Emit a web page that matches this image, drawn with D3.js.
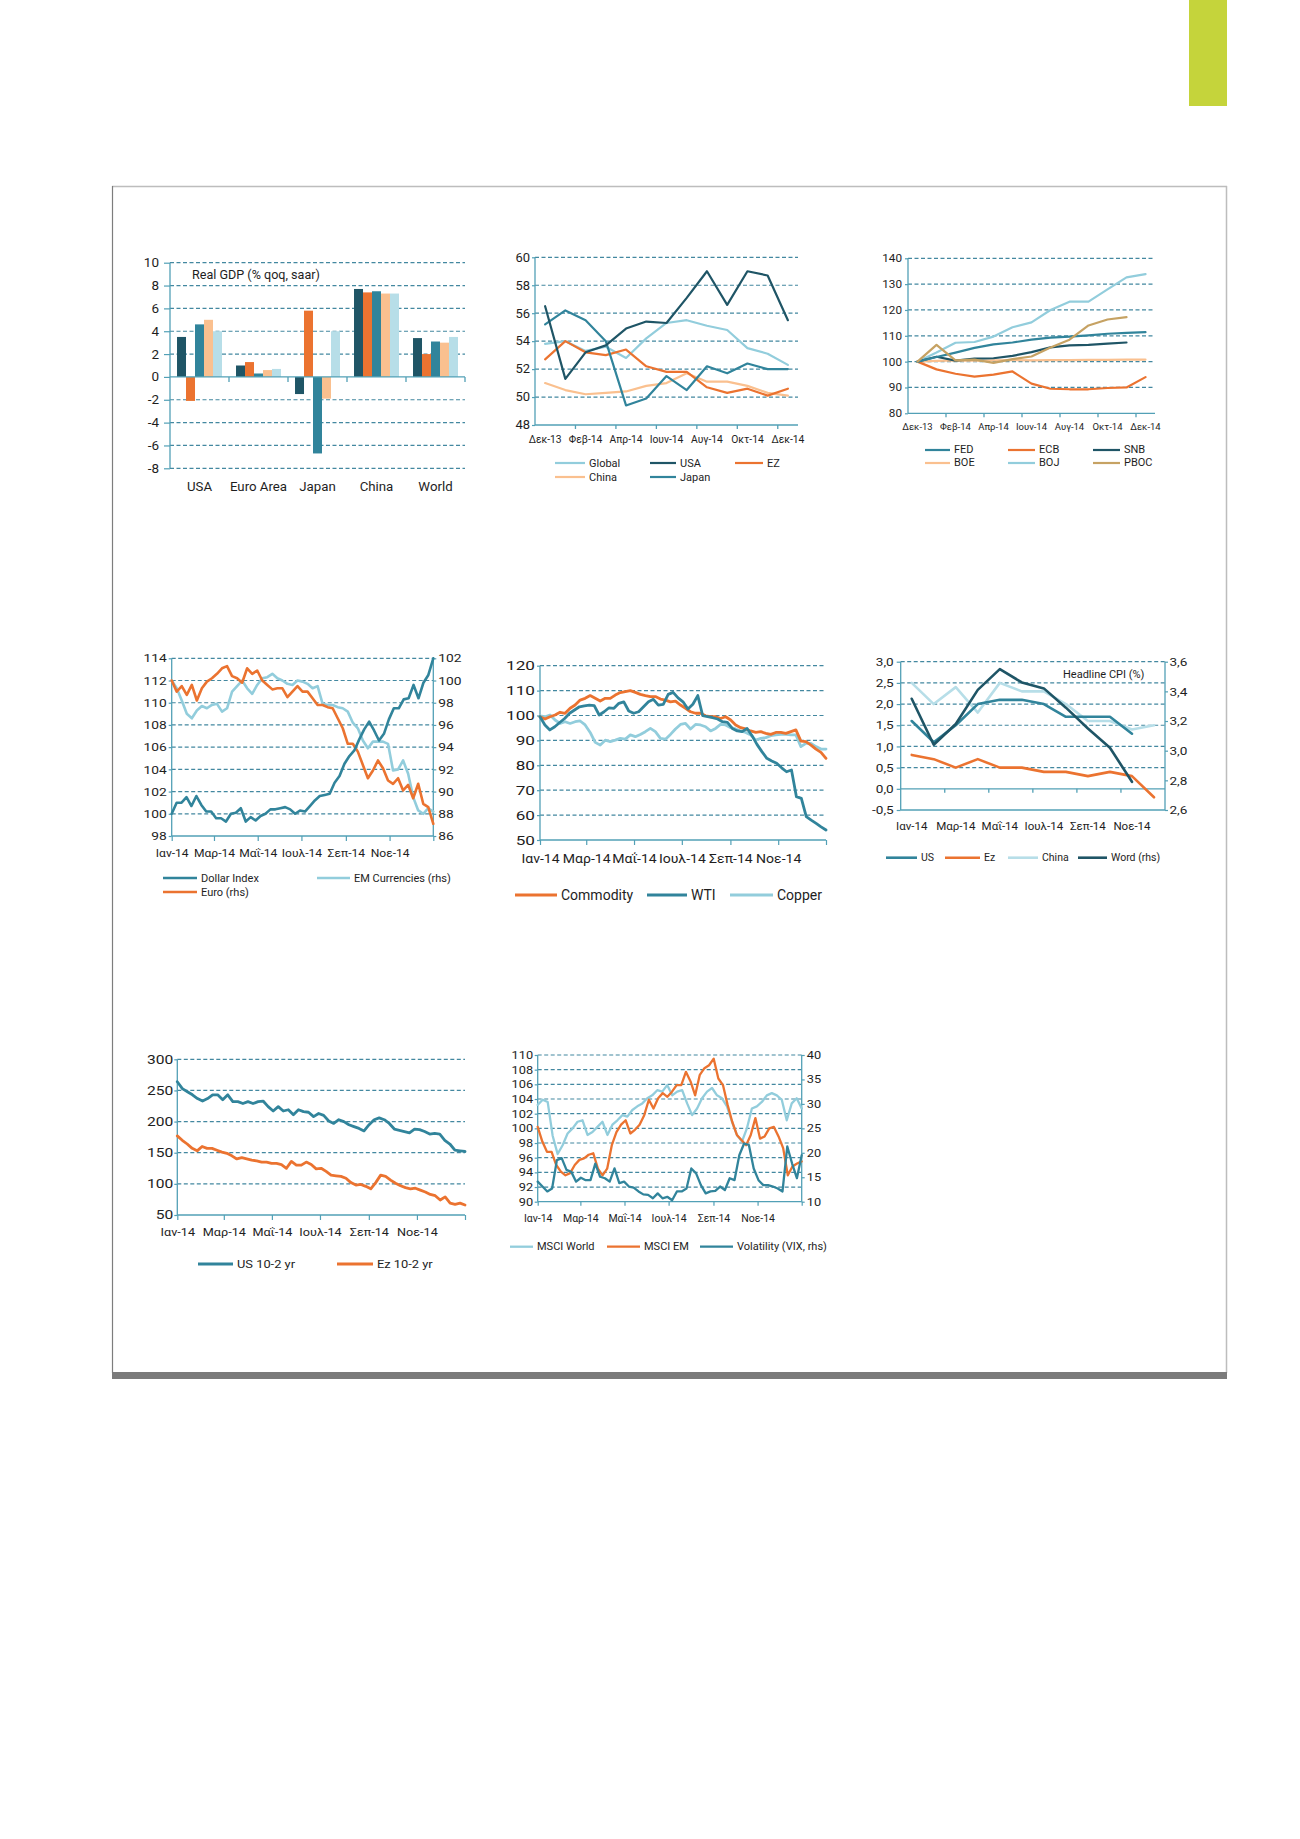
<!DOCTYPE html>
<html>
<head>
<meta charset="utf-8">
<script src="https://cdn.jsdelivr.net/npm/d3@7/dist/d3.min.js"></script>
<style>
  body { margin: 0; background: #fff; }
  svg { font-family: Roboto, 'Noto Sans', sans-serif; }
  .grid { stroke: #4388a0; stroke-width: 1.2; stroke-dasharray: 4 2.5; }
  .ax { stroke: #52a0b6; stroke-width: 1.3; fill: none; }
</style>
</head>
<body>
<script>
// ---------- data ----------
const gdpRegions = ['USA', 'Euro Area', 'Japan', 'China', 'World']
const gdpQuarters = ['4Q13', '1Q14', '2Q14', '3Q14', '4Q14']
const gdpUSA = [3.5, -2.1, 4.6, 5.0, 4.0]
const gdpEA = [1.0, 1.3, 0.3, 0.6, 0.7]
const gdpJapan = [-1.5, 5.8, -6.7, -1.9, 4.0]
const gdpChina = [7.7, 7.4, 7.5, 7.3, 7.3]
const gdpWorld = [3.4, 2.0, 3.1, 3.0, 3.5]
const gdpTicks = [-8, -6, -4, -2, 0, 2, 4, 6, 8, 10]

const pmiMonths = ['Δεκ-13', 'Ιαν-14', 'Φεβ-14', 'Μαρ-14', 'Απρ-14', 'Μαϊ-14', 'Ιουν-14',
  'Ιουλ-14', 'Αυγ-14', 'Σεπ-14', 'Οκτ-14', 'Νοε-14', 'Δεκ-14']
const pmiGlobal = [53.8, 54.0, 53.3, 53.6, 52.8, 54.2, 55.3, 55.5, 55.1, 54.8, 53.5, 53.1, 52.3]
const pmiUSA = [56.5, 51.3, 53.2, 53.7, 54.9, 55.4, 55.3, 57.1, 59.0, 56.6, 59.0, 58.7, 55.5]
const pmiEZ = [52.7, 54.0, 53.2, 53.0, 53.4, 52.2, 51.8, 51.8, 50.7, 50.3, 50.6, 50.1, 50.6]
const pmiChina = [51.0, 50.5, 50.2, 50.3, 50.4, 50.8, 51.0, 51.7, 51.1, 51.1, 50.8, 50.3, 50.1]
const pmiJapan = [55.2, 56.2, 55.5, 54.0, 49.4, 49.9, 51.5, 50.5, 52.2, 51.7, 52.4, 52.0, 52.0]
const pmiTicks = [48, 50, 52, 54, 56, 58, 60]

const cbFED = [100, 101.8, 103.5, 105.3, 106.7, 107.4, 108.5, 109.3, 109.7, 110.2, 110.8, 111.1, 111.4]
const cbECB = [100, 97.0, 95.3, 94.2, 95.0, 96.2, 91.5, 89.5, 89.3, 89.3, 89.8, 90.0, 94.0]
const cbSNB = [100, 101.9, 100.4, 101.2, 101.3, 102.2, 103.7, 105.5, 106.3, 106.5, 107.0, 107.4]
const cbBOE = [100, 100.3, 100.5, 100.4, 100.5, 100.6, 100.5, 100.6, 100.6, 100.7, 100.7, 100.8, 100.8]
const cbBOJ = [100, 103.5, 107.3, 107.6, 109.7, 113.3, 115.2, 120.0, 123.2, 123.2, 128.0, 132.6, 133.9]
const cbPBOC = [100, 106.5, 100.5, 100.8, 99.5, 101.0, 102.0, 105.5, 108.5, 114.0, 116.3, 117.2]
const cbTicks = [80, 90, 100, 110, 120, 130, 140]

// weekly observations through 2014
const fxDollar = [100.0, 101.0, 101.0, 101.5, 100.7, 101.6, 100.8, 100.2, 100.2, 99.6, 99.6, 99.3, 100.0,
  100.1, 100.5, 99.3, 99.7, 99.4, 99.8, 100.0, 100.4, 100.4, 100.5, 100.6, 100.4, 100.0, 100.3, 100.2,
  100.7, 101.2, 101.6, 101.7, 101.8, 102.8, 103.4, 104.5, 105.2, 105.7, 106.7, 107.6, 108.3, 107.5,
  106.6, 107.2, 108.5, 109.5, 109.5, 110.3, 110.4, 111.6, 110.4, 111.8, 112.5, 114.0]
const fxEuro = [100.0, 99.0, 99.5, 98.7, 99.6, 98.2, 99.3, 99.9, 100.2, 100.6, 101.1, 101.3, 100.4, 100.2,
  99.8, 101.1, 100.6, 100.9, 100.0, 99.6, 99.2, 99.3, 99.3, 98.5, 99.0, 99.5, 99.0, 99.0, 98.4, 97.8,
  97.8, 97.6, 97.5, 96.6, 95.7, 94.3, 94.3, 93.6, 92.4, 91.2, 91.9, 92.8, 92.1, 91.0, 90.7, 91.2, 90.1,
  90.6, 89.4, 90.7, 88.9, 88.6, 87.1]
const fxEM = [100.0, 99.3, 98.2, 97.0, 96.6, 97.3, 97.7, 97.5, 97.8, 97.9, 97.2, 97.5, 99.0, 99.5, 100.0,
  99.3, 98.8, 99.6, 100.2, 100.3, 100.6, 100.2, 100.0, 99.7, 99.6, 100.0, 99.9, 99.7, 99.3, 99.5, 97.9,
  97.8, 97.8, 97.6, 97.5, 97.2, 96.2, 95.7, 94.6, 93.9, 94.5, 94.5, 94.5, 94.3, 91.9, 92.0, 92.8, 91.6,
  89.5, 88.3, 88.0, 88.5, 88.2]
const fxLeftTicks = [98, 100, 102, 104, 106, 108, 110, 112, 114]
const fxRightTicks = [86, 88, 90, 92, 94, 96, 98, 100, 102]

const cmdCommodity = [99.5, 98.6, 99.5, 100.2, 101.3, 100.9, 102.9, 104.2, 106.2, 106.9, 108.0, 106.9,
  105.8, 106.9, 106.9, 108.2, 109.2, 109.6, 110.0, 109.3, 108.5, 108.0, 107.6, 107.6, 106.6, 106.2, 105.5,
  105.8, 104.2, 102.9, 101.5, 100.9, 100.9, 99.9, 99.5, 99.5, 98.8, 99.5, 98.2, 96.2, 95.1, 94.6, 93.8,
  93.2, 93.5, 92.8, 92.4, 93.2, 93.2, 92.8, 93.5, 94.2, 89.7, 89.5, 88.1, 86.5, 85.2, 82.8]
const cmdWTI = [99.5, 96.2, 94.2, 95.5, 97.2, 98.8, 100.9, 102.2, 103.5, 103.9, 104.2, 104.0, 100.2, 101.5,
  103.1, 102.9, 104.9, 105.5, 101.8, 100.9, 101.5, 103.5, 105.5, 106.5, 104.2, 104.5, 108.5, 109.3, 107.1,
  105.5, 102.6, 104.5, 108.0, 99.9, 99.5, 99.1, 98.6, 97.5, 97.2, 94.8, 93.8, 93.5, 94.8, 91.9, 88.4, 85.5,
  82.8, 81.7, 80.8, 79.0, 77.4, 78.1, 67.4, 66.7, 59.4, 58.0, 56.7, 55.3, 54.0]
const cmdCopper = [99.9, 99.5, 100.2, 98.2, 96.8, 97.5, 96.8, 97.5, 97.8, 96.2, 93.2, 89.2, 88.1, 90.1,
  89.5, 90.1, 90.8, 90.5, 92.2, 91.5, 92.4, 93.5, 94.8, 93.5, 90.8, 90.5, 92.4, 94.6, 96.4, 96.8, 94.6,
  96.4, 96.2, 95.5, 93.8, 94.8, 96.4, 96.2, 95.1, 94.6, 93.8, 93.2, 92.2, 90.1, 90.8, 91.1, 91.9, 92.2,
  92.4, 92.4, 92.2, 92.2, 87.5, 88.8, 88.8, 87.5, 86.5, 86.5]
const cmdTicks = [50, 60, 70, 80, 90, 100, 110, 120]

const cpiMonths = ['Ιαν-14', 'Φεβ-14', 'Μαρ-14', 'Απρ-14', 'Μαΐ-14', 'Ιουν-14', 'Ιουλ-14', 'Αυγ-14',
  'Σεπ-14', 'Οκτ-14', 'Νοε-14', 'Δεκ-14']
const cpiUS = [1.6, 1.1, 1.5, 2.0, 2.1, 2.1, 2.0, 1.7, 1.7, 1.7, 1.3]
const cpiEz = [0.8, 0.7, 0.5, 0.7, 0.5, 0.5, 0.4, 0.4, 0.3, 0.4, 0.3, -0.2]
const cpiChina = [2.5, 2.0, 2.4, 1.8, 2.5, 2.3, 2.3, 2.0, 1.6, 1.6, 1.4, 1.5]
const cpiWorld = [3.35, 3.04, 3.18, 3.41, 3.55, 3.46, 3.42, 3.29, 3.15, 3.02, 2.79]
const cpiLeftTicks = [-0.5, 0, 0.5, 1.0, 1.5, 2.0, 2.5, 3.0]
const cpiRightTicks = [2.6, 2.8, 3.0, 3.2, 3.4, 3.6]

const crvUS = [264, 253, 248, 243, 237, 233, 237, 243, 243, 235, 243, 232, 232, 229, 232, 229, 232, 233,
  224, 217, 224, 217, 219, 211, 219, 216, 215, 208, 213, 210, 201, 197, 203, 200, 195, 192, 189, 185, 195,
  203, 206, 203, 197, 188, 186, 184, 182, 188, 187, 184, 180, 181, 180, 170, 164, 154, 153, 152]
const crvEz = [177, 170, 164, 157, 153, 160, 157, 157, 154, 151, 149, 145, 140, 142, 140, 138, 137, 135,
  135, 133, 133, 131, 125, 136, 130, 130, 135, 131, 124, 125, 120, 114, 113, 112, 109, 102, 98, 99, 96, 92,
  102, 114, 112, 106, 101, 97, 94, 92, 93, 90, 87, 83, 81, 74, 79, 69, 67, 69, 66]
const crvTicks = [50, 100, 150, 200, 250, 300]

const eqWorld = [103.2, 103.9, 103.6, 99.0, 96.5, 97.7, 99.3, 100.0, 100.9, 101.1, 99.1, 99.5, 100.2,
  100.9, 99.1, 100.5, 101.1, 101.8, 101.6, 102.5, 103.0, 103.4, 104.1, 104.5, 105.2, 105.0, 105.9, 104.5,
  105.0, 105.2, 103.4, 101.8, 102.7, 104.1, 105.0, 105.5, 104.5, 104.1, 103.0, 100.9, 99.1, 98.2, 100.0,
  102.7, 103.0, 103.6, 104.5, 104.8, 104.5, 103.9, 101.1, 103.4, 104.1, 102.7]
const eqEM = [100.2, 98.2, 96.8, 96.8, 95.0, 94.1, 93.6, 93.9, 95.0, 95.7, 95.9, 96.4, 96.6, 94.5, 93.6,
  94.5, 97.7, 99.5, 100.5, 101.1, 99.3, 99.8, 100.5, 101.8, 103.9, 102.7, 104.1, 104.8, 104.3, 105.0,
  105.9, 105.9, 107.7, 106.4, 104.5, 107.3, 108.2, 108.6, 109.5, 106.8, 105.9, 103.2, 100.9, 99.1, 98.4,
  97.7, 99.1, 101.4, 98.6, 98.9, 100.0, 100.2, 98.9, 97.3, 93.6, 94.8, 95.2, 95.5]
const eqVIX = [14.1, 13.1, 12.1, 12.7, 18.5, 18.9, 16.5, 16.1, 14.1, 14.9, 14.4, 14.4, 17.8, 15.1, 14.8,
  14.1, 16.8, 13.8, 14.1, 13.1, 12.9, 12.1, 11.5, 11.4, 10.7, 11.7, 10.7, 11.0, 10.3, 12.1, 12.1, 12.7,
  16.8, 15.8, 13.4, 11.7, 12.1, 12.2, 13.1, 12.4, 14.8, 14.4, 19.5, 21.9, 21.6, 16.8, 14.4, 13.4, 13.4,
  13.1, 12.7, 12.1, 21.3, 17.8, 14.8, 19.5]
const eqLeftTicks = [90, 92, 94, 96, 98, 100, 102, 104, 106, 108, 110]
const eqRightTicks = [10, 15, 20, 25, 30, 35, 40]

// ---------- setup ----------
const col = {
  dark: '#1f5566', teal: '#31849b', cyan: '#92cddc', pale: '#b7dee8',
  orange: '#eb7330', peach: '#fac08f', tan: '#c6a263', text: '#1e1e1e', axis: '#52a0b6'
}
const grMonths = ['Ιαν', 'Φεβ', 'Μαρ', 'Απρ', 'Μαΐ', 'Ιουν', 'Ιουλ', 'Αυγ', 'Σεπ', 'Οκτ', 'Νοε', 'Δεκ']
const monthLabel = d => d.getFullYear() === 2014 ? grMonths[d.getMonth()] + '-14' : ''
const t0 = new Date(2014, 0, 1), t1 = new Date(2015, 0, 1)
const weekly = vals => vals.map((v, i) => [new Date(+t0 + (t1 - t0) * i / (vals.length - 1)), v])
const grFmt = d3.formatLocale({ decimal: ',', thousands: '.', grouping: [3], currency: ['', ''], minus: '-' }).format('.1f')

const svg = d3.select('body').append('svg').attr('width', 1300).attr('height', 1839)

// page furniture
svg.append('rect').attr('x', 1189).attr('y', 0).attr('width', 38).attr('height', 106).attr('fill', '#c5d43b')
svg.append('line').attr('x1', 112).attr('x2', 1227).attr('y1', 186.5).attr('y2', 186.5).attr('stroke', '#bdbdbd').attr('stroke-width', 1.5)
svg.append('line').attr('x1', 112.5).attr('x2', 112.5).attr('y1', 186).attr('y2', 1373).attr('stroke', '#7d7d7d').attr('stroke-width', 1.2)
svg.append('line').attr('x1', 1226.5).attr('x2', 1226.5).attr('y1', 186).attr('y2', 1373).attr('stroke', '#bdbdbd').attr('stroke-width', 1.5)
svg.append('rect').attr('x', 112).attr('y', 1372).attr('width', 1115).attr('height', 7).attr('fill', '#7b7b7b')

// ---------- helpers ----------
// the source charts were stretched sideways, so text gets a horizontal scale
function widen(sel, k) {
  sel.each(function () {
    const t = d3.select(this)
    t.attr('x', (+t.attr('x') || 0) / k).attr('transform', `scale(${k},1)`)
  })
}

function grid(g, y, vals, x0, x1) {
  g.selectAll(null).data(vals).enter().append('line')
    .attr('class', 'grid')
    .attr('x1', x0).attr('x2', x1)
    .attr('y1', d => y(d)).attr('y2', d => y(d))
}

function rule(g, x1, y1, x2, y2) {
  g.append('line').attr('class', 'ax')
    .attr('x1', x1).attr('y1', y1).attr('x2', x2).attr('y2', y2)
}

function axisAt(g, axis, tx, ty, size, k = 1) {
  const a = g.append('g').attr('transform', `translate(${tx},${ty})`).call(axis)
  a.attr('font-family', null).attr('font-size', size)
  a.select('.domain').remove()
  a.selectAll('.tick line').attr('stroke', col.axis).attr('stroke-width', 1.2)
  a.selectAll('.tick text').attr('fill', col.text)
  if (k !== 1) widen(a.selectAll('.tick text'), k)
  return a
}

function line(g, pts, x, y, color, w) {
  g.append('path').datum(pts)
    .attr('fill', 'none').attr('stroke', color).attr('stroke-width', w)
    .attr('stroke-linejoin', 'round').attr('stroke-linecap', 'round')
    .attr('d', d3.line().x(d => x(d[0])).y(d => y(d[1])))
}

function legend(g, items, size, w, k = 1) {
  items.forEach(([label, color, x, y, len]) => {
    g.append('line').attr('x1', x).attr('x2', x + len).attr('y1', y).attr('y2', y)
      .attr('stroke', color).attr('stroke-width', w)
    const t = g.append('text').attr('x', x + len + 4).attr('y', y).attr('dy', '0.35em')
      .attr('font-size', size).attr('fill', col.text).text(label)
    if (k !== 1) widen(t, k)
  })
}

// ---------- 1. real GDP bars ----------
{
  const g = svg.append('g')
  const x = d3.scaleBand().domain(gdpRegions).range([170, 465])
  const xq = d3.scaleBand().domain(gdpQuarters).range([0, x.bandwidth()]).paddingOuter(0.78)
  const y = d3.scaleLinear().domain([-8, 10]).range([468.3, 262.7])
  const qColors = [col.dark, col.orange, col.teal, col.peach, col.pale]
  const rows = [gdpUSA, gdpEA, gdpJapan, gdpChina, gdpWorld]

  grid(g, y, gdpTicks.filter(d => d !== 0), 170, 465)
  rows.forEach((vals, i) => {
    g.selectAll(null).data(vals).enter().append('rect')
      .attr('x', (d, j) => x(gdpRegions[i]) + xq(gdpQuarters[j]))
      .attr('width', xq.bandwidth())
      .attr('y', d => y(Math.max(0, d)))
      .attr('height', d => Math.abs(y(d) - y(0)))
      .attr('fill', (d, j) => qColors[j])
  })
  rule(g, 170, y(10), 170, y(-8))
  rule(g, 170, y(0), 465, y(0))
  g.selectAll(null).data(gdpRegions).enter().append('line').attr('class', 'ax')
    .attr('x1', d => x(d) + x.bandwidth()).attr('x2', d => x(d) + x.bandwidth())
    .attr('y1', y(0)).attr('y2', y(0) + 5)
  axisAt(g, d3.axisLeft(y).tickValues(gdpTicks).tickSize(6).tickPadding(5).tickFormat(d => String(d)), 170, 0, 12.5, 1.08)
  const labels = g.selectAll(null).data(gdpRegions).enter().append('text')
    .attr('x', d => x(d) + x.bandwidth() / 2).attr('y', 491)
    .attr('text-anchor', 'middle').attr('font-size', 12.5).attr('fill', col.text)
    .text(d => d)
  widen(labels, 1.06)
  widen(g.append('text').attr('x', 192).attr('y', 279.5)
    .attr('font-size', 12).attr('fill', col.text).text('Real GDP (% qoq, saar)'), 1.05)
}

// ---------- 2. PMIs ----------
{
  const g = svg.append('g')
  const x = d3.scaleBand().domain(pmiMonths).range([535, 798])
  const cx = m => x(m) + x.bandwidth() / 2
  const y = d3.scaleLinear().domain([48, 60]).range([425, 257.3])

  grid(g, y, pmiTicks.slice(1), 535, 798)
  rule(g, 535, y(60), 535, y(48))
  rule(g, 535, y(48), 798, y(48))
  g.selectAll(null).data(pmiMonths.filter((m, i) => i % 2 === 1)).enter().append('line').attr('class', 'ax')
    .attr('x1', d => x(d) + x.bandwidth()).attr('x2', d => x(d) + x.bandwidth())
    .attr('y1', y(48)).attr('y2', y(48) + 4)
  axisAt(g, d3.axisLeft(y).tickValues(pmiTicks).tickSize(3).tickPadding(2), 535, 0, 12, 1.08)
  axisAt(g, d3.axisBottom(x).tickValues(pmiMonths.filter((m, i) => i % 2 === 0)).tickSize(0).tickPadding(11), 0, 425, 10.3)

  const series = [[pmiGlobal, col.cyan], [pmiChina, col.peach], [pmiEZ, col.orange], [pmiJapan, col.teal], [pmiUSA, col.dark]]
  series.forEach(([vals, c]) => line(g, vals.map((v, i) => [pmiMonths[i], v]), cx, y, c, 2.2))
  legend(g, [
    ['Global', col.cyan, 555, 463, 30], ['USA', col.dark, 650, 463, 26], ['EZ', col.orange, 735, 463, 28],
    ['China', col.peach, 555, 477, 30], ['Japan', col.teal, 650, 477, 26]
  ], 11, 2.2)
}

// ---------- 3. central bank balance sheets ----------
{
  const g = svg.append('g')
  const x = d3.scaleBand().domain(pmiMonths).range([908, 1155])
  const cx = m => x(m) + x.bandwidth() / 2
  const y = d3.scaleLinear().domain([80, 140]).range([413.3, 258.3])

  grid(g, y, cbTicks.slice(1), 908, 1155)
  rule(g, 908, y(140), 908, y(80))
  rule(g, 908, y(80), 1155, y(80))
  g.selectAll(null).data(pmiMonths.filter((m, i) => i % 2 === 1)).enter().append('line').attr('class', 'ax')
    .attr('x1', d => x(d) + x.bandwidth()).attr('x2', d => x(d) + x.bandwidth())
    .attr('y1', y(80)).attr('y2', y(80) + 4)
  axisAt(g, d3.axisLeft(y).tickValues(cbTicks).tickSize(3).tickPadding(3), 908, 0, 10.5, 1.12)
  axisAt(g, d3.axisBottom(x).tickValues(pmiMonths.filter((m, i) => i % 2 === 0)).tickSize(0).tickPadding(10), 0, 413.3, 9.5)

  const series = [[cbBOE, col.peach], [cbECB, col.orange], [cbBOJ, col.cyan], [cbSNB, col.dark], [cbFED, col.teal], [cbPBOC, col.tan]]
  series.forEach(([vals, c]) => line(g, vals.map((v, i) => [pmiMonths[i], v]), cx, y, c, 2.2))
  legend(g, [
    ['FED', col.teal, 925, 450, 25], ['ECB', col.orange, 1008, 450, 27], ['SNB', col.dark, 1093, 450, 27],
    ['BOE', col.peach, 925, 463, 25], ['BOJ', col.cyan, 1008, 463, 27], ['PBOC', col.tan, 1093, 463, 27]
  ], 10, 2.2, 1.1)
}

// ---------- 4. currencies ----------
{
  const g = svg.append('g')
  const x = d3.scaleTime().domain([t0, t1]).range([171.7, 433.3])
  const yl = d3.scaleLinear().domain([98, 114]).range([836, 658.3])
  const yr = d3.scaleLinear().domain([86, 102]).range([836, 658.3])

  grid(g, yl, fxLeftTicks.slice(1), 171.7, 433.3)
  rule(g, 171.7, 658.3, 171.7, 836)
  rule(g, 433.3, 658.3, 433.3, 836)
  rule(g, 171.7, 836, 433.3, 836)
  axisAt(g, d3.axisBottom(x).ticks(d3.timeMonth.every(2)).tickSize(5).tickPadding(8).tickFormat(monthLabel), 0, 836, 11.5, 1.05)
  axisAt(g, d3.axisLeft(yl).tickValues(fxLeftTicks).tickSize(3).tickPadding(2), 171.7, 0, 11.5, 1.2)
  axisAt(g, d3.axisRight(yr).tickValues(fxRightTicks).tickSize(3).tickPadding(2), 433.3, 0, 11.5, 1.2)

  line(g, weekly(fxEM), x, yr, col.cyan, 2.6)
  line(g, weekly(fxEuro), x, yr, col.orange, 2.6)
  line(g, weekly(fxDollar), x, yl, col.teal, 2.6)
  legend(g, [
    ['Dollar Index', col.teal, 163, 878, 34], ['EM Currencies (rhs)', col.cyan, 317, 878, 33],
    ['Euro (rhs)', col.orange, 163, 892, 34]
  ], 11, 2.6)
}

// ---------- 5. commodities ----------
{
  const g = svg.append('g')
  const x = d3.scaleTime().domain([t0, t1]).range([540, 826])
  const y = d3.scaleLinear().domain([50, 120]).range([840, 665.7])

  grid(g, y, cmdTicks.slice(1), 540, 826)
  rule(g, 540, 665.7, 540, 840)
  rule(g, 540, 840, 826, 840)
  axisAt(g, d3.axisBottom(x).ticks(d3.timeMonth.every(2)).tickSize(5).tickPadding(8).tickFormat(monthLabel), 0, 840, 13.5, 1.04)
  // the source crop cuts off the leading digit of the top labels
  svg.append('clipPath').attr('id', 'cut5').append('rect').attr('x', -35).attr('y', 640).attr('width', 300).attr('height', 300)
  axisAt(g, d3.axisLeft(y).tickValues(cmdTicks).tickSize(3).tickPadding(2), 540, 0, 13, 1.32)
    .attr('clip-path', 'url(#cut5)')

  line(g, weekly(cmdCopper), x, y, col.cyan, 2.8)
  line(g, weekly(cmdCommodity), x, y, col.orange, 2.8)
  line(g, weekly(cmdWTI), x, y, col.teal, 2.8)
  legend(g, [
    ['Commodity', col.orange, 515, 895, 42], ['WTI', col.teal, 647, 895, 40], ['Copper', col.cyan, 730, 895, 43]
  ], 14, 2.8)
}

// ---------- 6. headline CPI ----------
{
  const g = svg.append('g')
  const x = d3.scaleBand().domain(cpiMonths).range([900.7, 1165])
  const cx = m => x(m) + x.bandwidth() / 2
  const yl = d3.scaleLinear().domain([-0.5, 3.0]).range([810, 661.7])
  const yr = d3.scaleLinear().domain([2.6, 3.6]).range([810, 661.7])

  grid(g, yl, cpiLeftTicks.filter(d => d > 0), 900.7, 1165)
  rule(g, 900.7, 661.7, 900.7, 810)
  rule(g, 1165, 661.7, 1165, 810)
  rule(g, 900.7, yl(0), 1165, yl(0))
  rule(g, 900.7, 810, 1165, 810)
  g.selectAll(null).data(cpiMonths.filter((m, i) => i % 2 === 1 && i < 11)).enter().append('line').attr('class', 'ax')
    .attr('x1', d => x(d) + x.bandwidth()).attr('x2', d => x(d) + x.bandwidth())
    .attr('y1', yl(0)).attr('y2', yl(0) + 4)
  axisAt(g, d3.axisBottom(x).tickValues(cpiMonths.filter((m, i) => i % 2 === 0)).tickSize(0).tickPadding(12.5), 0, 810, 10.5, 1.1)
  axisAt(g, d3.axisLeft(yl).tickValues(cpiLeftTicks).tickSize(4).tickPadding(3).tickFormat(grFmt), 900.7, 0, 11.5, 1.18)
  axisAt(g, d3.axisRight(yr).tickValues(cpiRightTicks).tickSize(3).tickPadding(1.5).tickFormat(grFmt), 1165, 0, 11.5, 1.18)

  line(g, cpiChina.map((v, i) => [cpiMonths[i], v]), cx, yl, col.pale, 2.6)
  line(g, cpiUS.map((v, i) => [cpiMonths[i], v]), cx, yl, col.teal, 2.6)
  line(g, cpiEz.map((v, i) => [cpiMonths[i], v]), cx, yl, col.orange, 2.6)
  line(g, cpiWorld.map((v, i) => [cpiMonths[i], v]), cx, yr, col.dark, 2.6)
  widen(g.append('text').attr('x', 1063).attr('y', 678).attr('font-size', 10.5).attr('fill', col.text).text('Headline CPI (%)'), 1.05)
  legend(g, [
    ['US', col.teal, 886, 857.7, 31], ['Ez', col.orange, 945, 857.7, 35],
    ['China', col.pale, 1008, 857.7, 30], ['Word (rhs)', col.dark, 1078, 857.7, 29]
  ], 10.5, 2.6)
}

// ---------- 7. yield curves ----------
{
  const g = svg.append('g')
  const x = d3.scaleTime().domain([t0, t1]).range([177.3, 465])
  const y = d3.scaleLinear().domain([50, 300]).range([1215, 1059.3])

  grid(g, y, crvTicks.slice(1), 177.3, 465)
  rule(g, 177.3, 1059.3, 177.3, 1215)
  rule(g, 177.3, 1215, 465, 1215)
  axisAt(g, d3.axisBottom(x).ticks(d3.timeMonth.every(2)).tickSize(5).tickPadding(8).tickFormat(monthLabel), 0, 1215, 11.5, 1.1)
  axisAt(g, d3.axisLeft(y).tickValues(crvTicks).tickSize(3).tickPadding(1), 177.3, 0, 12, 1.3)

  line(g, weekly(crvUS), x, y, col.teal, 2.8)
  line(g, weekly(crvEz), x, y, col.orange, 2.8)
  legend(g, [['US 10-2 yr', col.teal, 198, 1264, 35], ['Ez 10-2 yr', col.orange, 337, 1264, 36]], 11.5, 2.8, 1.12)
}

// ---------- 8. equities & volatility ----------
{
  const g = svg.append('g')
  const x = d3.scaleTime().domain([t0, t1]).range([537.7, 801.7])
  const yl = d3.scaleLinear().domain([90, 110]).range([1201.7, 1055])
  const yr = d3.scaleLinear().domain([10, 40]).range([1201.7, 1055])

  grid(g, yl, eqLeftTicks.slice(1), 537.7, 801.7)
  rule(g, 537.7, 1055, 537.7, 1201.7)
  rule(g, 801.7, 1055, 801.7, 1201.7)
  rule(g, 537.7, 1201.7, 801.7, 1201.7)
  axisAt(g, d3.axisBottom(x).ticks(d3.timeMonth.every(2)).tickSize(4).tickPadding(8.5).tickFormat(monthLabel), 0, 1201.7, 10.5)
  axisAt(g, d3.axisLeft(yl).tickValues(eqLeftTicks).tickSize(3).tickPadding(1.5), 537.7, 0, 10.5, 1.22)
  axisAt(g, d3.axisRight(yr).tickValues(eqRightTicks).tickSize(3).tickPadding(2), 801.7, 0, 10.5, 1.22)

  line(g, weekly(eqWorld), x, yl, col.cyan, 2.3)
  line(g, weekly(eqEM), x, yl, col.orange, 2.3)
  line(g, weekly(eqVIX), x, yr, col.teal, 2.3)
  legend(g, [
    ['MSCI World', col.cyan, 510, 1246.7, 23], ['MSCI EM', col.orange, 607, 1246.7, 33],
    ['Volatility (VIX, rhs)', col.teal, 700, 1246.7, 33]
  ], 10.5, 2.3, 1.05)
}
</script>
</body>
</html>
